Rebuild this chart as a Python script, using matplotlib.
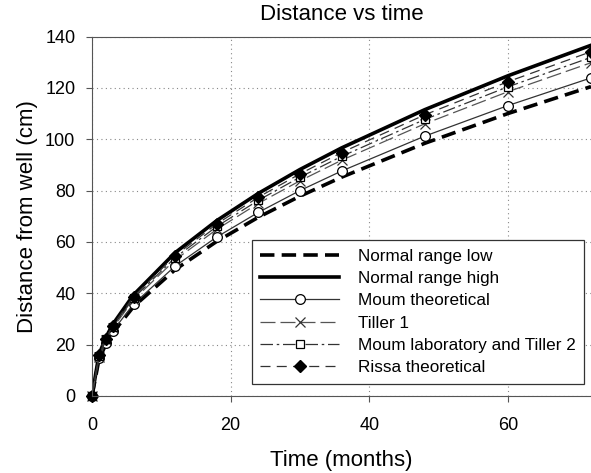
import matplotlib
matplotlib.use("Agg")
import matplotlib.pyplot as plt

plt.rcParams["font.family"] = ["Liberation Sans", "DejaVu Sans"]

# months at which each series was evaluated
months = [0, 1, 2, 3, 6, 12, 18, 24, 30, 36, 48, 60, 72]

normal_low = [0, 14.2, 20.1, 24.6, 34.8, 49.2, 60.2, 69.6, 77.8, 85.2, 98.4, 110.0, 120.5]
normal_high = [0, 16.1, 22.8, 27.9, 39.4, 55.8, 68.3, 78.9, 88.2, 96.6, 111.5, 124.7, 136.6]
moum_theo = [0, 14.6, 20.6, 25.3, 35.8, 50.6, 61.9, 71.5, 80.0, 87.6, 101.2, 113.1, 123.9]
tiller1 = [0, 15.3, 21.6, 26.5, 37.5, 53.0, 64.9, 75.0, 83.8, 91.8, 106.0, 118.5, 129.8]
moum_lab = [0, 15.5, 22.0, 26.9, 38.1, 53.9, 66.0, 76.2, 85.2, 93.3, 107.7, 120.4, 131.9]
rissa = [0, 15.8, 22.3, 27.4, 38.7, 54.7, 67.0, 77.4, 86.5, 94.8, 109.5, 122.4, 134.1]

x_ticks = [0, 20, 40, 60]
y_ticks = [0, 20, 40, 60, 80, 100, 120, 140]

fig = plt.figure(figsize=(5.91, 4.73), dpi=100)
ax = fig.add_axes([0.1557, 0.163, 0.8443, 0.7597])

ax.plot(months, normal_low, color="black", lw=2.6, ls=(0, (4, 2)), label="Normal range low")
ax.plot(months, normal_high, color="black", lw=2.6, ls="-", label="Normal range high")
ax.plot(months, moum_theo, color="#333333", lw=0.9, ls="-", marker="o", ms=7,
        mfc="white", mec="black", mew=0.9, label="Moum theoretical", clip_on=False)
ax.plot(months, tiller1, color="#555555", lw=0.9, ls=(0, (12, 4)), marker="x", ms=7,
        mec="#333333", mew=0.9, label="Tiller 1", clip_on=False)
ax.plot(months, moum_lab, color="#333333", lw=0.9, ls=(0, (10, 3, 2, 3)), marker="s", ms=6,
        mfc="white", mec="black", mew=0.9, label="Moum laboratory and Tiller 2", clip_on=False)
ax.plot(months, rissa, color="#333333", lw=0.9, ls=(0, (8, 5)), marker="D", ms=6,
        mfc="black", mec="black", label="Rissa theoretical", clip_on=False)

ax.set_xlim(0, 72)
ax.set_ylim(0, 140)
ax.set_xticks(x_ticks)
ax.set_yticks(y_ticks)
ax.tick_params(labelsize=13, direction="out", length=4, color="#555555")
ax.tick_params(axis="x", pad=11)
ax.tick_params(axis="y", pad=8)
ax.grid(True, ls=(0, (1, 3)), color="#888888", lw=0.8)
for side in ("left", "bottom", "top"):
    ax.spines[side].set_color("#555555")
ax.spines["right"].set_visible(False)

ax.set_xlabel("Time (months)", fontsize=16, labelpad=12)
ax.set_ylabel("Distance from well (cm)", fontsize=16, labelpad=5)
ax.set_title("Distance vs time", fontsize=16, pad=12)

leg = ax.legend(loc="lower right", bbox_to_anchor=(0.986, 0.0334), borderaxespad=0,
                fontsize=12.3, handlelength=4.6, handletextpad=1.1, labelspacing=0.43,
                fancybox=False, framealpha=1, edgecolor="#333333", borderpad=0.5)
leg.get_frame().set_linewidth(0.9)

fig.savefig("out.png", dpi=100)
